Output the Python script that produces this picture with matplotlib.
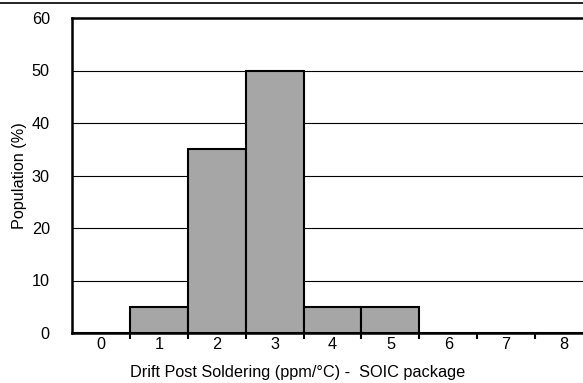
import matplotlib
matplotlib.use('Agg')
import matplotlib.pyplot as plt
from matplotlib.lines import Line2D
import numpy as np

plt.rcParams['font.family'] = ['Liberation Sans', 'DejaVu Sans']

drift = [0, 1, 2, 3, 4, 5, 6, 7, 8]
population = [0, 5, 35, 50, 5, 5, 0, 0, 0]
yticks = [0, 10, 20, 30, 40, 50, 60]

fs = 11.7

fig = plt.figure(figsize=(5.83, 3.83), dpi=100)
ax = fig.add_axes([72 / 583, 1 - 333 / 383, 521 / 583, 315 / 383])

# horizontal grid first, bars on top
for y in yticks[1:-1]:
    ax.axhline(y, color='black', lw=0.8, zorder=1)

ax.bar(drift, population, width=1.0, color='#a6a6a6', edgecolor='black',
       linewidth=1.5, zorder=2)

ax.set_xlim(-0.5, 8.5)
ax.set_ylim(0, 60)
ax.set_yticks(yticks)
ax.set_xticks(drift)
ax.set_xticks(np.arange(0.5, 8, 1), minor=True)
ax.tick_params(axis='x', which='major', length=0, pad=3, labelsize=fs)
ax.tick_params(axis='x', which='minor', length=4, width=1.5, direction='out')
ax.tick_params(axis='y', length=0, pad=16, labelsize=fs)

ax.spines['right'].set_visible(False)
for s in ['left', 'bottom', 'top']:
    ax.spines[s].set_linewidth(1.8)

ax.set_ylabel('Population (%)', fontsize=fs)
ax.yaxis.set_label_coords(-0.086, 0.5)
ax.set_xlabel('Drift Post Soldering (ppm/°C) -  SOIC package', fontsize=fs)
ax.xaxis.set_label_coords((298 - 72) / 521, -0.102)

# line left over from the cropped heading above the chart
fig.add_artist(Line2D([0, 1], [1 - 2.5 / 383] * 2, color='black', lw=1.2,
                      transform=fig.transFigure))

fig.savefig('out.png', dpi=100)
